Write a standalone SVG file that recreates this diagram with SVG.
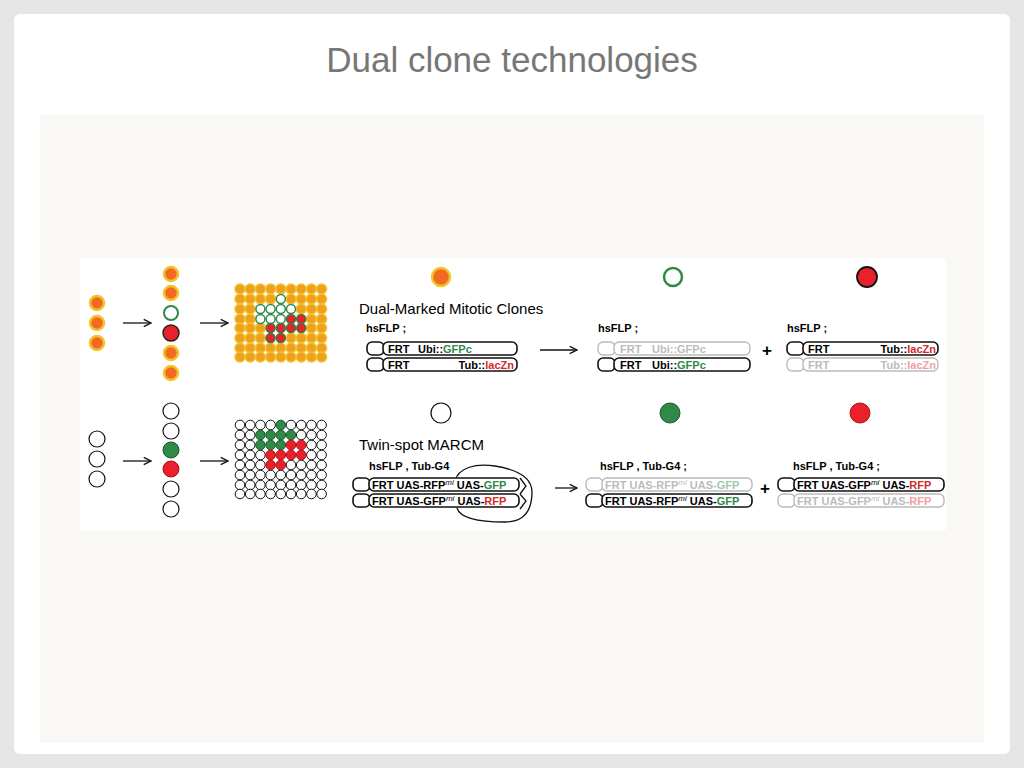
<svg xmlns="http://www.w3.org/2000/svg" width="1024" height="768" viewBox="0 0 1024 768">
<defs>
<style>
text{font-family:"Liberation Sans",Arial,sans-serif}
.b{font-weight:bold;font-size:11px}
.o{fill:#f26a21;stroke:#f2c32a;stroke-width:2.5}
.oc{fill:#f0a020;stroke:#f2c32a;stroke-width:1.5}
.g{fill:#fff;stroke:#2e8a46;stroke-width:2}
.r{fill:#e8212c;stroke:#222;stroke-width:1.5}
.rc{fill:#e8212c;stroke:#3a7a3a;stroke-width:1.5}
.w{fill:#fff;stroke:#111;stroke-width:1.2}
.gf{fill:#2e8a46;stroke:#1a5a2a;stroke-width:1}
.rf{fill:#e8212c;stroke:#b01010;stroke-width:1}
.ch{fill:#fff;stroke:#111;stroke-width:1.6}
.chg{fill:#fff;stroke:#bbb;stroke-width:1.4}
.ln{stroke:#111;stroke-width:1.3;fill:none}
.grn{fill:#2e8a46}.red{fill:#d42a2a}
.gt{fill:#bbb}.gg{fill:#9cc9a8}.gr{fill:#f0a0a0}
.sup{font-size:8px;font-style:italic;font-weight:normal}
</style>
<marker id="ah" viewBox="0 0 10 10" refX="9" refY="5" markerWidth="7" markerHeight="7" orient="auto"><path d="M1,1 L9,5 L1,9" fill="none" stroke="#111" stroke-width="1.5"/></marker>
</defs>
<rect width="1024" height="768" fill="#e6e6e6"/>
<rect x="14" y="14" width="996" height="740" rx="6" fill="#fff"/>
<text x="512" y="72" font-size="35" fill="#777" text-anchor="middle">Dual clone technologies</text>
<rect x="40" y="115" width="944" height="628" rx="3" fill="#f9f8f4"/>
<rect x="80" y="258" width="866" height="272" fill="#fff"/>

<g id="top-left">
<circle cx="97" cy="303" r="7" class="o"/><circle cx="97" cy="323" r="7" class="o"/><circle cx="97" cy="343" r="7" class="o"/>
<circle cx="171" cy="274" r="7" class="o"/><circle cx="171" cy="293" r="7" class="o"/>
<circle cx="171" cy="313" r="7" class="g"/><circle cx="171" cy="333" r="8" class="r"/>
<circle cx="171" cy="353" r="7" class="o"/><circle cx="171" cy="373" r="7" class="o"/>
</g>
<g id="top-grid">
<g class="oc">
<circle cx="240" cy="289" r="5"/><circle cx="250.2" cy="289" r="5"/><circle cx="260.4" cy="289" r="5"/><circle cx="270.6" cy="289" r="5"/><circle cx="280.8" cy="289" r="5"/><circle cx="291" cy="289" r="5"/><circle cx="301.2" cy="289" r="5"/><circle cx="311.4" cy="289" r="5"/><circle cx="321.6" cy="289" r="5"/>
<circle cx="240" cy="299" r="5"/><circle cx="250.2" cy="299" r="5"/><circle cx="260.4" cy="299" r="5"/><circle cx="270.6" cy="299" r="5"/><circle cx="291" cy="299" r="5"/><circle cx="301.2" cy="299" r="5"/><circle cx="311.4" cy="299" r="5"/><circle cx="321.6" cy="299" r="5"/>
<circle cx="240" cy="309" r="5"/><circle cx="250.2" cy="309" r="5"/><circle cx="301.2" cy="309" r="5"/><circle cx="311.4" cy="309" r="5"/><circle cx="321.6" cy="309" r="5"/>
<circle cx="240" cy="319" r="5"/><circle cx="250.2" cy="319" r="5"/><circle cx="311.4" cy="319" r="5"/><circle cx="321.6" cy="319" r="5"/>
<circle cx="240" cy="328" r="5"/><circle cx="250.2" cy="328" r="5"/><circle cx="260.4" cy="328" r="5"/><circle cx="311.4" cy="328" r="5"/><circle cx="321.6" cy="328" r="5"/>
<circle cx="240" cy="338" r="5"/><circle cx="250.2" cy="338" r="5"/><circle cx="260.4" cy="338" r="5"/><circle cx="291" cy="338" r="5"/><circle cx="301.2" cy="338" r="5"/><circle cx="311.4" cy="338" r="5"/><circle cx="321.6" cy="338" r="5"/>
<circle cx="240" cy="348" r="5"/><circle cx="250.2" cy="348" r="5"/><circle cx="260.4" cy="348" r="5"/><circle cx="270.6" cy="348" r="5"/><circle cx="280.8" cy="348" r="5"/><circle cx="291" cy="348" r="5"/><circle cx="301.2" cy="348" r="5"/><circle cx="311.4" cy="348" r="5"/><circle cx="321.6" cy="348" r="5"/>
<circle cx="240" cy="357" r="5"/><circle cx="250.2" cy="357" r="5"/><circle cx="260.4" cy="357" r="5"/><circle cx="270.6" cy="357" r="5"/><circle cx="280.8" cy="357" r="5"/><circle cx="291" cy="357" r="5"/><circle cx="301.2" cy="357" r="5"/><circle cx="311.4" cy="357" r="5"/><circle cx="321.6" cy="357" r="5"/>
</g>
<g class="g" style="stroke-width:1.5">
<circle cx="280.8" cy="299" r="4.5"/>
<circle cx="260.4" cy="309" r="4.5"/><circle cx="270.6" cy="309" r="4.5"/><circle cx="280.8" cy="309" r="4.5"/><circle cx="291" cy="309" r="4.5"/>
<circle cx="260.4" cy="319" r="4.5"/><circle cx="270.6" cy="319" r="4.5"/><circle cx="280.8" cy="319" r="4.5"/>
</g>
<g class="rc">
<circle cx="291" cy="319" r="4.5"/><circle cx="301.2" cy="319" r="4.5"/>
<circle cx="270.6" cy="328" r="4.5"/><circle cx="280.8" cy="328" r="4.5"/><circle cx="291" cy="328" r="4.5"/><circle cx="301.2" cy="328" r="4.5"/>
<circle cx="270.6" cy="338" r="4.5"/><circle cx="280.8" cy="338" r="4.5"/>
</g>
</g>

<g id="bottom-left">
<circle cx="97" cy="439" r="8" class="w"/><circle cx="97" cy="459" r="8" class="w"/><circle cx="97" cy="479" r="8" class="w"/>
<circle cx="171" cy="411" r="8" class="w"/><circle cx="171" cy="431" r="8" class="w"/>
<circle cx="171" cy="450" r="8" class="gf"/><circle cx="171" cy="469" r="8" class="rf"/>
<circle cx="171" cy="489" r="8" class="w"/><circle cx="171" cy="509" r="8" class="w"/>
</g>
<g id="bottom-grid">
<g class="w" style="stroke-width:1">
<circle cx="240" cy="425" r="4.8"/><circle cx="250.2" cy="425" r="4.8"/><circle cx="260.4" cy="425" r="4.8"/><circle cx="270.6" cy="425" r="4.8"/><circle cx="291" cy="425" r="4.8"/><circle cx="301.2" cy="425" r="4.8"/><circle cx="311.4" cy="425" r="4.8"/><circle cx="321.6" cy="425" r="4.8"/>
<circle cx="240" cy="435" r="4.8"/><circle cx="250.2" cy="435" r="4.8"/><circle cx="301.2" cy="435" r="4.8"/><circle cx="311.4" cy="435" r="4.8"/><circle cx="321.6" cy="435" r="4.8"/>
<circle cx="240" cy="445" r="4.8"/><circle cx="250.2" cy="445" r="4.8"/><circle cx="311.4" cy="445" r="4.8"/><circle cx="321.6" cy="445" r="4.8"/>
<circle cx="240" cy="455" r="4.8"/><circle cx="250.2" cy="455" r="4.8"/><circle cx="260.4" cy="455" r="4.8"/><circle cx="311.4" cy="455" r="4.8"/><circle cx="321.6" cy="455" r="4.8"/>
<circle cx="240" cy="465" r="4.8"/><circle cx="250.2" cy="465" r="4.8"/><circle cx="260.4" cy="465" r="4.8"/><circle cx="291" cy="465" r="4.8"/><circle cx="301.2" cy="465" r="4.8"/><circle cx="311.4" cy="465" r="4.8"/><circle cx="321.6" cy="465" r="4.8"/>
<circle cx="240" cy="475" r="4.8"/><circle cx="250.2" cy="475" r="4.8"/><circle cx="260.4" cy="475" r="4.8"/><circle cx="270.6" cy="475" r="4.8"/><circle cx="280.8" cy="475" r="4.8"/><circle cx="291" cy="475" r="4.8"/><circle cx="301.2" cy="475" r="4.8"/><circle cx="311.4" cy="475" r="4.8"/><circle cx="321.6" cy="475" r="4.8"/>
<circle cx="240" cy="485" r="4.8"/><circle cx="250.2" cy="485" r="4.8"/><circle cx="260.4" cy="485" r="4.8"/><circle cx="270.6" cy="485" r="4.8"/><circle cx="280.8" cy="485" r="4.8"/><circle cx="291" cy="485" r="4.8"/><circle cx="301.2" cy="485" r="4.8"/><circle cx="311.4" cy="485" r="4.8"/><circle cx="321.6" cy="485" r="4.8"/>
<circle cx="240" cy="494" r="4.8"/><circle cx="250.2" cy="494" r="4.8"/><circle cx="260.4" cy="494" r="4.8"/><circle cx="270.6" cy="494" r="4.8"/><circle cx="280.8" cy="494" r="4.8"/><circle cx="291" cy="494" r="4.8"/><circle cx="301.2" cy="494" r="4.8"/><circle cx="311.4" cy="494" r="4.8"/><circle cx="321.6" cy="494" r="4.8"/>
</g>
<g class="gf">
<circle cx="280.8" cy="425" r="4.8"/>
<circle cx="260.4" cy="435" r="4.8"/><circle cx="270.6" cy="435" r="4.8"/><circle cx="280.8" cy="435" r="4.8"/><circle cx="291" cy="435" r="4.8"/>
<circle cx="260.4" cy="445" r="4.8"/><circle cx="270.6" cy="445" r="4.8"/><circle cx="280.8" cy="445" r="4.8"/>
</g>
<g class="rf">
<circle cx="291" cy="445" r="4.8"/><circle cx="301.2" cy="445" r="4.8"/>
<circle cx="270.6" cy="455" r="4.8"/><circle cx="280.8" cy="455" r="4.8"/><circle cx="291" cy="455" r="4.8"/><circle cx="301.2" cy="455" r="4.8"/>
<circle cx="270.6" cy="465" r="4.8"/><circle cx="280.8" cy="465" r="4.8"/>
</g>
</g>

<g id="connectors">
<line x1="123" y1="323" x2="151" y2="323" class="ln" marker-end="url(#ah)"/>
<line x1="200" y1="323" x2="228" y2="323" class="ln" marker-end="url(#ah)"/>
<line x1="123" y1="461" x2="151" y2="461" class="ln" marker-end="url(#ah)"/>
<line x1="200" y1="461" x2="228" y2="461" class="ln" marker-end="url(#ah)"/>
<line x1="540" y1="350" x2="577" y2="350" class="ln" marker-end="url(#ah)"/>
<line x1="555" y1="488" x2="577" y2="488" class="ln" marker-end="url(#ah)"/>
<path d="M455,481 C458,468 475,463 495,466 C520,470 532,478 532,492 C532,510 525,522 505,522 C480,522 460,518 457,508" class="ln"/>
<path d="M520,478 L526,486 L520,494 M520,494 L526,501 L520,509" class="ln"/>
</g>

<g id="top-clones">
<circle cx="441" cy="277" r="9" class="o"/>
<circle cx="673" cy="277" r="9" class="g" style="stroke-width:2.5"/>
<circle cx="867" cy="277" r="10" fill="#e8212c" stroke="#111" stroke-width="1.8"/>
<text x="359" y="314" font-size="15">Dual-Marked Mitotic Clones</text>
</g>
<g id="top-genotype-1">
<text x="366" y="332" class="b">hsFLP ;</text>
<rect x="367" y="342" width="17" height="13" rx="5" class="ch"/><rect x="383" y="342" width="134" height="13" rx="5" class="ch"/>
<rect x="367" y="358" width="17" height="13" rx="5" class="ch"/><rect x="383" y="358" width="134" height="13" rx="5" class="ch"/>
<text x="388" y="352.5" class="b">FRT <tspan x="418">Ubi::</tspan><tspan class="grn">GFPc</tspan></text>
<text x="388" y="368.5" class="b">FRT</text>
<text x="514" y="368.5" class="b" text-anchor="end">Tub::<tspan class="red">lacZn</tspan></text>
</g>
<g id="top-genotype-2">
<text x="598" y="332" class="b">hsFLP ;</text>
<rect x="598" y="342" width="17" height="13" rx="5" class="chg"/><rect x="614" y="342" width="136" height="13" rx="5" class="chg"/>
<rect x="598" y="358" width="17" height="13" rx="5" class="ch"/><rect x="614" y="358" width="136" height="13" rx="5" class="ch"/>
<text x="620" y="352.5" class="b gt">FRT <tspan x="652">Ubi::GFPc</tspan></text>
<text x="620" y="368.5" class="b">FRT <tspan x="652">Ubi::</tspan><tspan class="grn">GFPc</tspan></text>
<text x="767" y="356" font-size="17" font-weight="bold" text-anchor="middle">+</text>
</g>
<g id="top-genotype-3">
<text x="787" y="332" class="b">hsFLP ;</text>
<rect x="787" y="342" width="17" height="13" rx="5" class="ch"/><rect x="803" y="342" width="135" height="13" rx="5" class="ch"/>
<rect x="787" y="358" width="17" height="13" rx="5" class="chg"/><rect x="803" y="358" width="135" height="13" rx="5" class="chg"/>
<text x="808" y="352.5" class="b">FRT</text>
<text x="936" y="352.5" class="b" text-anchor="end">Tub::<tspan class="red">lacZn</tspan></text>
<text x="808" y="368.5" class="b gt">FRT</text>
<text x="936" y="368.5" class="b gt" text-anchor="end">Tub::<tspan class="gr">lacZn</tspan></text>
</g>

<g id="bottom-clones">
<circle cx="441" cy="413" r="10" class="w"/>
<circle cx="670" cy="413" r="10" class="gf"/>
<circle cx="860" cy="413" r="10" class="rf"/>
<text x="359" y="450" font-size="15">Twin-spot MARCM</text>
</g>
<g id="bottom-genotype-1">
<text x="369" y="470" class="b">hsFLP , Tub-G4</text>
<rect x="353" y="478" width="17" height="13" rx="5" class="ch"/><rect x="369" y="478" width="150" height="13" rx="5" class="ch"/>
<rect x="353" y="494" width="17" height="13" rx="5" class="ch"/><rect x="369" y="494" width="150" height="13" rx="5" class="ch"/>
<text x="372" y="488.5" class="b">FRT UAS-RFP<tspan class="sup" dy="-4">mi</tspan><tspan dy="4"> UAS-</tspan><tspan class="grn">GFP</tspan></text>
<text x="372" y="504.5" class="b">FRT UAS-GFP<tspan class="sup" dy="-4">mi</tspan><tspan dy="4"> UAS-</tspan><tspan class="red">RFP</tspan></text>
</g>
<g id="bottom-genotype-2">
<text x="600" y="470" class="b">hsFLP , Tub-G4 ;</text>
<rect x="586" y="478" width="17" height="13" rx="5" class="chg"/><rect x="602" y="478" width="150" height="13" rx="5" class="chg"/>
<rect x="586" y="494" width="17" height="13" rx="5" class="ch"/><rect x="602" y="494" width="150" height="13" rx="5" class="ch"/>
<text x="605" y="488.5" class="b gt">FRT UAS-RFP<tspan class="sup" dy="-4">mi</tspan><tspan dy="4"> UAS-</tspan><tspan class="gg">GFP</tspan></text>
<text x="605" y="504.5" class="b">FRT UAS-RFP<tspan class="sup" dy="-4">mi</tspan><tspan dy="4"> UAS-</tspan><tspan class="grn">GFP</tspan></text>
<text x="765" y="494" font-size="17" font-weight="bold" text-anchor="middle">+</text>
</g>
<g id="bottom-genotype-3">
<text x="793" y="470" class="b">hsFLP , Tub-G4 ;</text>
<rect x="778" y="478" width="17" height="13" rx="5" class="ch"/><rect x="794" y="478" width="150" height="13" rx="5" class="ch"/>
<rect x="778" y="494" width="17" height="13" rx="5" class="chg"/><rect x="794" y="494" width="150" height="13" rx="5" class="chg"/>
<text x="797" y="488.5" class="b">FRT UAS-GFP<tspan class="sup" dy="-4">mi</tspan><tspan dy="4"> UAS-</tspan><tspan class="red">RFP</tspan></text>
<text x="797" y="504.5" class="b gt">FRT UAS-GFP<tspan class="sup" dy="-4">mi</tspan><tspan dy="4"> UAS-</tspan><tspan class="gr">RFP</tspan></text>
</g>
</svg>
